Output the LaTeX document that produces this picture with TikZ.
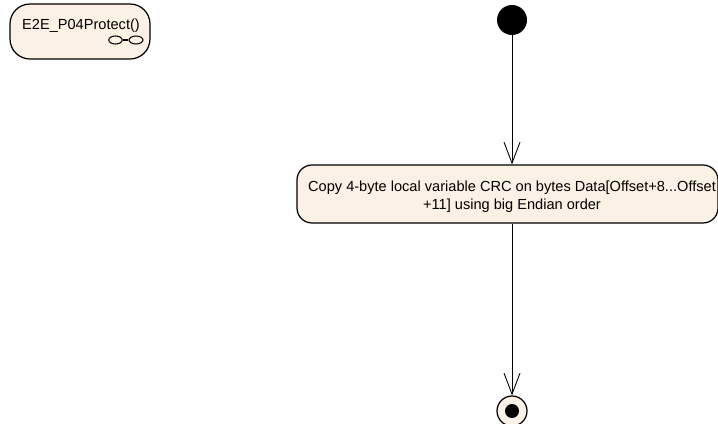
\documentclass[tikz,border=0pt]{standalone}
\usepackage{fontspec}
\setmainfont{Liberation Sans}
\usetikzlibrary{arrows.meta,shapes.geometric}
\definecolor{statefill}{RGB}{251,241,228}
\tikzset{
  statefont/.style={font=\fontsize{8.3pt}{10pt}\selectfont},
  statebox/.style={draw=black, fill=statefill, line width=0.7pt, rounded corners=0.3cm, align=center, inner sep=0pt, statefont},
  flow/.style={black, line width=0.5pt, -{Straight Barb[length=0.42cm,width=0.32cm]}}
}
\begin{document}
\begin{tikzpicture}
        \useasboundingbox (0,0) rectangle (14.36,-8.46);
        % states
        \node[statebox, minimum width=2.8cm, minimum height=1.1cm, rounded corners=0.4cm] (protect) at (1.6,-0.63) {};
        \node[statefont] (protectlabel) at (1.62,-0.51) {E2E\_P04Protect()};
        \node[statebox, minimum width=8.42cm, minimum height=1.16cm] (copycrc) at (10.15,-3.88) {};
        \node[statefont, align=center] (copycrclabel) at (10.24,-3.93) {Copy 4-byte local variable CRC on bytes Data[Offset+8...Offset\\+11] using big Endian order};

        % initial and final
        \node[circle, fill=black, minimum size=0.6cm, inner sep=0pt] (start) at (10.24,-0.4) {};
        \node[circle, draw=black, fill=statefill, line width=0.7pt, minimum size=0.6cm, inner sep=0pt] (final) at (10.24,-8.22) {};
        \node[circle, fill=black, minimum size=0.28cm, inner sep=0pt] (finaldot) at (final) {};

        % rake icon
        \node[ellipse, draw=black, line width=0.6pt, minimum width=0.27cm, minimum height=0.16cm, inner sep=0pt] (rakeleft) at (2.31,-0.8) {};
        \node[ellipse, draw=black, line width=0.6pt, minimum width=0.28cm, minimum height=0.16cm, inner sep=0pt] (rakeright) at (2.72,-0.8) {};
        \draw[black, line width=0.6pt] (rakeleft) -- (rakeright);

        % flows
        \draw[flow] (start) -- (start |- copycrc.north);
        \draw[flow] (start |- copycrc.south) -- (final);
\end{tikzpicture}
\end{document}
